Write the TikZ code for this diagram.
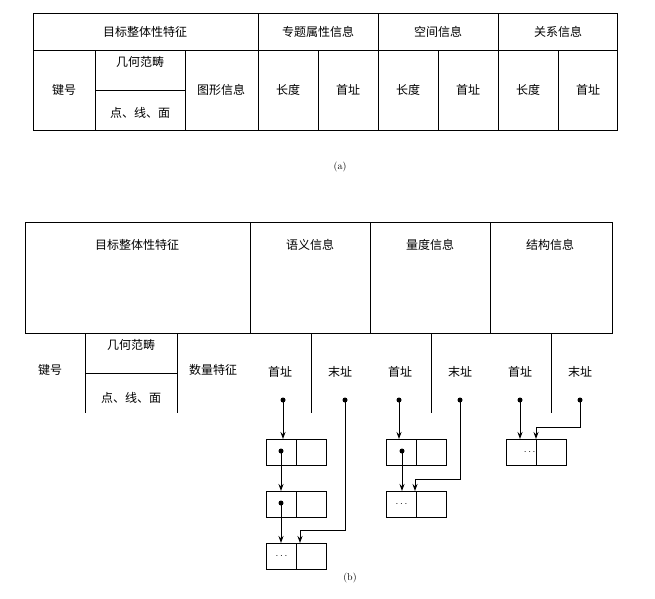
\documentclass[tikz,border=0pt]{standalone}
\usepackage{fontspec}
\newfontfamily\cjk{Noto Sans CJK SC}
\usetikzlibrary{arrows.meta}
\begin{document}
\begin{tikzpicture}[x=1pt,y=-1pt,line width=1pt,
  lbl/.style={font=\cjk\fontsize{12}{14}\selectfont,inner sep=0pt},
  cell/.style={draw,minimum width=30pt,minimum height=26pt,inner sep=0pt},
  arr/.style={-{Stealth[length=7pt,width=5pt]}},
  dotc/.style={circle,fill,inner sep=0pt,minimum size=5pt}]
\useasboundingbox (0,0) rectangle (655,598);
% (a)
\draw (33,13) rectangle (617,130);
\draw (33,50) -- (617,50);
\foreach \x in {258,378,498} \draw (\x,13) -- (\x,130);
\foreach \x in {95,185,318,438,558} \draw (\x,50) -- (\x,130);
\draw (95,90) -- (185,90);
\node[lbl] (a1) at (145,32) {目标整体性特征};
\node[lbl] (a2) at (318,32) {专题属性信息};
\node[lbl] (a3) at (438,32) {空间信息};
\node[lbl] (a4) at (558,32) {关系信息};
\node[lbl] (a5) at (64,90) {键号};
\node[lbl] (a6) at (140,62) {几何范畴};
\node[lbl] (a7) at (140,113) {点、线、面};
\node[lbl] (a8) at (221,90) {图形信息};
\foreach \x/\n in {288/b1,408/b2,528/b3} \node[lbl] (\n) at (\x,90) {长度};
\foreach \x/\n in {348/c1,468/c2,588/c3} \node[lbl] (\n) at (\x,90) {首址};
\node[font=\fontsize{10}{12}\selectfont] (la) at (340,167) {(a)};
% (b)
\draw (25,222) rectangle (612,333);
\foreach \x in {250,370,490} \draw (\x,222) -- (\x,333);
\foreach \x in {311,431,551} \draw (\x,333) -- (\x,413);
\draw (85,333) -- (85,413) (177,333) -- (177,413) (85,373) -- (177,373);
\node[lbl] (t1) at (137,245) {目标整体性特征};
\node[lbl] (t2) at (310,245) {语义信息};
\node[lbl] (t3) at (430,245) {量度信息};
\node[lbl] (t4) at (550,245) {结构信息};
\node[lbl] (k) at (50,370) {键号};
\node[lbl] (g) at (131,345) {几何范畴};
\node[lbl] (p) at (131,398) {点、线、面};
\node[lbl] (q) at (213,370) {数量特征};
\foreach \x/\n in {280/h1,400/h2,520/h3} \node[lbl] (\n) at (\x,372) {首址};
\foreach \x/\n in {340/m1,460/m2,580/m3} \node[lbl] (\n) at (\x,372) {末址};
% boxes
\foreach \n/\x/\y in {A1/266/439,A2/266/491,A3/266/543,B1/386/439,B2/386/491,C1/506/439}{
  \node[cell,anchor=north west] (\n l) at (\x,\y) {};
  \node[cell,anchor=north west] (\n r) at (\x+30,\y) {};
}
\node[font=\bfseries] (e1) at (A3l.center) {$\cdots$};
\node[font=\bfseries] (e2) at (B2l.center) {$\cdots$};
\node[font=\bfseries,anchor=east,inner sep=1pt] (e3) at (C1l.east) {$\cdots$};
% dots
\node[dotc] (d1) at (283,400) {};
\node[dotc] (d2) at (345,400) {};
\node[dotc] (d3) at (399,400) {};
\node[dotc] (d4) at (460,400) {};
\node[dotc] (d5) at (520,400) {};
\node[dotc] (d6) at (580,400) {};
\node[dotc] (i1) at (281,451) {};
\node[dotc] (i2) at (281,503) {};
\node[dotc] (i3) at (402,451) {};
% arrows
\draw[arr] (d1.center) -- (d1.center |- A1l.north);
\draw[arr] (i1.center) -- (i1.center |- A2l.north);
\draw[arr] (i2.center) -- (i2.center |- A3l.north);
\coordinate (k1) at (300,530);
\draw[arr] (d2.center) |- (k1) -- (k1 |- A3l.north);
\draw[arr] (d3.center) -- (d3.center |- B1l.north);
\draw[arr] (i3.center) -- (i3.center |- B2l.north);
\coordinate (k2) at (415,479);
\draw[arr] (d4.center) |- (k2) -- (k2 |- B2l.north);
\draw[arr] (d5.center) -- (d5.center |- C1l.north);
\coordinate (k3) at (536,427);
\draw[arr] (d6.center) |- (k3) -- (k3 |- C1l.north);
\node[font=\fontsize{10}{12}\selectfont] (lb) at (350,578) {(b)};
\end{tikzpicture}
\end{document}
